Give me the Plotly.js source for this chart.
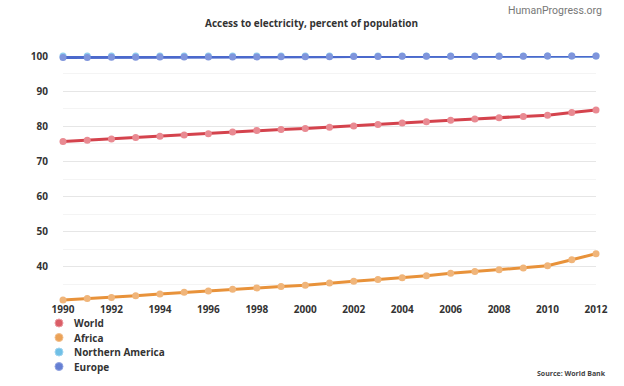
<!DOCTYPE html>
<html>
<head>
<meta charset="utf-8">
<script src="https://cdn.plot.ly/plotly-3.0.1.min.js"></script>
<style>html,body{margin:0;padding:0;background:#fff;}#chart{width:624px;height:386px;}</style>
</head>
<body>
<div id="chart"></div>
<script>
var years = [1990,1991,1992,1993,1994,1995,1996,1997,1998,1999,2000,2001,2002,2003,2004,2005,2006,2007,2008,2009,2010,2011,2012];
var world = [75.65,76.05,76.4,76.8,77.2,77.55,77.9,78.4,78.8,79.1,79.4,79.75,80.1,80.5,80.95,81.3,81.7,82.1,82.4,82.75,83.15,83.9,84.65];
var africa = [30.6,30.97,31.3,31.8,32.3,32.75,33.15,33.6,34.0,34.4,34.75,35.4,35.9,36.4,36.9,37.5,38.15,38.7,39.2,39.7,40.3,42.0,43.75];
var northernAmerica = [100,100,100,100,100,100,100,100,100,100,100,100,100,100,100,100,100,100,100,100,100,100,100];
var europe = [99.6,99.6,99.65,99.65,99.7,99.7,99.7,99.75,99.75,99.8,99.8,99.8,99.85,99.85,99.9,99.9,99.9,99.95,99.95,99.95,100,100,100];
var seriesNames = ['World','Africa','Northern America','Europe'];
var seriesData = [world, africa, northernAmerica, europe];
var lineColors = ['#d4434d','#e8923a','#58b6e2','#4b69cc'];
var markerColors = ['#e98a92','#f0b57a','#8fcdee','#7f95dc'];
var yTicks = [40,50,60,70,80,90,100];
var xTicks = [1990,1992,1994,1996,1998,2000,2002,2004,2006,2008,2010,2012];

var traces = seriesData.map(function(d,i){
  return {
    x: years, y: d, name: seriesNames[i], type:'scatter', mode:'lines+markers',
    line:{color:lineColors[i], width:3},
    marker:{color:markerColors[i], size:7},
    cliponaxis:false, showlegend:false
  };
});

var annotations = [
  {text:'Access to electricity, percent of population', xref:'paper', yref:'paper', x:0.467, y:1, yshift:33, xanchor:'center', yanchor:'middle', showarrow:false, font:{family:'Open Sans', size:10, color:'#333', weight:'bold'}},
  {text:'HumanProgress.org', xref:'paper', yref:'paper', x:1, y:1, xshift:8, yshift:46, xanchor:'right', yanchor:'middle', showarrow:false, font:{family:'Roboto', size:10.5, color:'#777'}},
  {text:'Source: World Bank', xref:'paper', yref:'paper', x:1, y:0, xshift:12, yshift:-71, xanchor:'right', yanchor:'middle', showarrow:false, font:{family:'Open Sans', size:7, color:'#444', weight:'bold'}}
];
var shapes = [];
seriesNames.forEach(function(n,i){
  annotations.push({
    text:n,
    xref:'paper', yref:'paper', x:0, xshift:9, y:0, yshift:-21-i*14.5,
    xanchor:'left', yanchor:'middle', showarrow:false,
    font:{family:'Open Sans', size:10, color:'#333', weight:'bold'}
  });
  shapes.push({
    type:'circle', xref:'paper', yref:'paper', xsizemode:'pixel', ysizemode:'pixel',
    xanchor:0, yanchor:0, x0:-8, x1:0, y0:-25-i*14.5, y1:-17-i*14.5,
    fillcolor:lineColors[i], opacity:0.85, line:{width:1, color:markerColors[i]}
  });
});

var layout = {
  width:624, height:386,
  margin:{l:63, r:28, t:56, b:84},
  paper_bgcolor:'#fff', plot_bgcolor:'#fff',
  showlegend:false,
  xaxis:{range:[1990,2012], tickvals:xTicks, ticktext:xTicks.map(String), showgrid:false, zeroline:false, showline:false, ticks:'', tickfont:{family:'Open Sans', size:10, color:'#333', weight:'bold'}},
  yaxis:{range:[30,100], tickvals:yTicks, ticktext:yTicks.map(String), gridcolor:'#e6e6e6', gridwidth:1, zeroline:false, showline:false, ticks:'', ticklabelstandoff:14, tickfont:{family:'Open Sans', size:10, color:'#333', weight:'bold'},
    minor:{dtick:5, showgrid:true, gridcolor:'#f4f4f4', gridwidth:1}},
  annotations: annotations,
  shapes: shapes
};
Plotly.newPlot('chart', traces, layout, {displayModeBar:false, staticPlot:true});
</script>
</body>
</html>
